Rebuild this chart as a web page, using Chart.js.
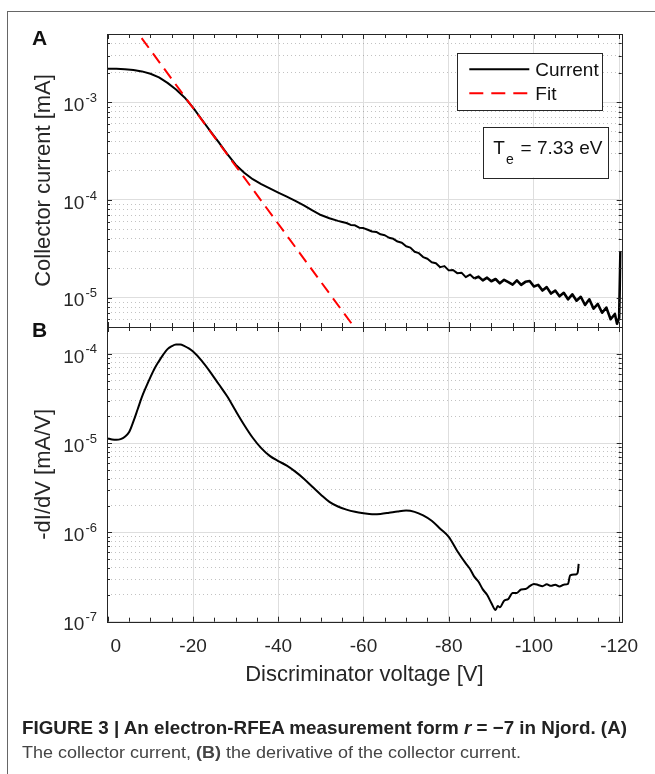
<!DOCTYPE html>
<html>
<head>
<meta charset="utf-8">
<title>Electron-RFEA measurement</title>
<script src="https://cdn.jsdelivr.net/npm/chart.js@4.4.1/dist/chart.umd.min.js"></script>
<style>
    body { margin: 0; background: #fff; }
    #fig { position: relative; width: 655px; height: 774px; overflow: hidden; background: #fff; }
    #fig canvas { position: absolute; left: 0; top: 0; }
    .frame-top { position: absolute; left: 7px; top: 11px; right: 0; border-top: 1px solid #666; }
    .frame-left { position: absolute; left: 7px; top: 11px; bottom: 0; border-left: 1px solid #666; }
    .panel-label { position: absolute; font: bold 21px "Liberation Sans", Arial, sans-serif; line-height: 21px; color: #111; }
    .cap { position: absolute; left: 22px; white-space: nowrap; transform-origin: 0 0; font-family: "Liberation Sans", Arial, sans-serif; }
    #cap1 { top: 719px; font-size: 18.5px; line-height: 18.5px; font-weight: bold; color: #222; }
    #cap2 { top: 745px; font-size: 16px; line-height: 16px; color: #444; }
</style>
</head>
<body>
<div id="fig">
    <div class="frame-top"></div>
    <div class="frame-left"></div>
    <canvas id="panelA" width="655" height="774"></canvas>
    <canvas id="panelB" width="655" height="774"></canvas>
    <div class="panel-label" style="left:32px; top:27px;">A</div>
    <div class="panel-label" style="left:32px; top:319px;">B</div>
    <div class="cap" id="cap1">FIGURE 3 | An electron-RFEA measurement form <i>r</i> = −7 in Njord. (A)</div>
    <div class="cap" id="cap2">The collector current, <b>(B)</b> the derivative of the collector current.</div>
</div>
<script>
// Values
const xRange = [-120.6, 0.2];          // discriminator voltage [V] (axis runs 0 -> -120)
const xMajorTicks = [0, -20, -40, -60, -80, -100, -120];
const xTickLabels = ['   0', '-20', '-40', '-60', '-80', '-100', '-120'];
const topRange = [5e-6, 5e-3];         // collector current [mA]
const bottomRange = [1e-7, 2e-4];      // -dI/dV [mA/V]

// Panel A: measured collector current
const currentV = [
    0, -2, -4, -6, -8, -10, -12, -14, -16, -18,
    -20, -22, -24, -26, -28, -30, -32, -34, -36, -38,
    -40, -42, -44, -46, -48, -50, -52, -54, -55,
    -56, -57, -58, -59, -60, -61, -62, -63, -64, -65,
    -66, -67, -68, -69, -70, -71, -72, -73, -74, -75,
    -76, -77, -78, -79, -80, -81, -82, -83, -84, -85,
    -86, -87, -88, -89, -90, -91, -92, -93, -94, -95,
    -96, -97, -98, -99, -100, -101, -102, -103, -104, -105,
    -106, -107, -108, -109, -110, -111, -112, -113, -114, -115,
    -116, -117, -118, -119, -119.5, -120, -120.3
];
const currentI = [
    2.2e-3, 2.2e-3, 2.18e-3, 2.14e-3, 2.07e-3, 1.96e-3, 1.8e-3, 1.58e-3, 1.35e-3, 1.12e-3,
    8.8e-4, 6.7e-4, 5.1e-4, 3.9e-4, 2.97e-4, 2.3e-4, 1.9e-4, 1.63e-4, 1.45e-4, 1.31e-4,
    1.19e-4, 1.08e-4, 9.8e-5, 8.8e-5, 7.8e-5, 7.0e-5, 6.5e-5, 6.1e-5, 5.95e-5,
    5.8e-5, 5.55e-5, 5.5e-5, 5.2e-5, 5.15e-5, 4.95e-5, 4.75e-5, 4.7e-5, 4.45e-5, 4.35e-5,
    4.1e-5, 4.0e-5, 3.75e-5, 3.65e-5, 3.35e-5, 3.25e-5, 2.95e-5, 2.85e-5, 2.6e-5, 2.5e-5,
    2.3e-5, 2.25e-5, 2.05e-5, 2.1e-5, 1.9e-5, 1.92e-5, 1.78e-5, 1.8e-5, 1.62e-5, 1.72e-5,
    1.57e-5, 1.64e-5, 1.5e-5, 1.6e-5, 1.47e-5, 1.55e-5, 1.4e-5, 1.52e-5, 1.44e-5, 1.36e-5,
    1.5e-5, 1.35e-5, 1.45e-5, 1.48e-5, 1.3e-5, 1.35e-5, 1.18e-5, 1.28e-5, 1.1e-5, 1.18e-5,
    1.03e-5, 1.12e-5, 9.6e-6, 1.08e-5, 9.3e-6, 1.02e-5, 8.4e-6, 9.6e-6, 7.7e-6, 8.6e-6,
    7.0e-6, 7.9e-6, 6.0e-6, 6.8e-6, 5.4e-6, 6.2e-6, 3.0e-5
];

// Panel A: exponential fit (straight in log scale), end points
const fitV = [0, -60];
const fitI = [1.34e-2, 3.7e-6];
const fitText = ['T', 'e', ' = 7.33 eV'];

// Panel B: derivative of the collector current
const derivV = [
    0, -1, -2, -3, -4, -5, -6, -7, -8, -9,
    -10, -11, -12, -13, -14, -15, -16, -17, -18, -19,
    -20, -22, -24, -26, -28, -30, -32, -34, -36, -38,
    -40, -42, -44, -46, -48, -50, -52, -54, -56, -58,
    -60, -62, -64, -66, -68, -70, -72, -74, -76, -78,
    -80, -82, -84, -85, -86, -87, -88, -89, -90, -91,
    -91.5, -92, -93, -94, -95, -96, -97, -98, -99, -100,
    -101, -102, -103, -104, -105, -106, -107, -108, -108.5, -110,
    -110.3, -110.5
];
const derivI = [
    1.13e-5, 1.1e-5, 1.09e-5, 1.11e-5, 1.18e-5, 1.33e-5, 1.75e-5, 2.4e-5, 3.3e-5, 4.3e-5,
    5.5e-5, 6.9e-5, 8.3e-5, 9.8e-5, 1.13e-4, 1.22e-4, 1.27e-4, 1.27e-4, 1.22e-4, 1.15e-4,
    1.06e-4, 8.4e-5, 6.3e-5, 4.6e-5, 3.35e-5, 2.3e-5, 1.6e-5, 1.15e-5, 8.8e-6, 7.2e-6,
    6.3e-6, 5.6e-6, 4.8e-6, 4.0e-6, 3.25e-6, 2.65e-6, 2.2e-6, 1.95e-6, 1.8e-6, 1.7e-6,
    1.64e-6, 1.6e-6, 1.61e-6, 1.66e-6, 1.72e-6, 1.76e-6, 1.7e-6, 1.55e-6, 1.35e-6, 1.1e-6,
    8.9e-7, 6.2e-7, 4.5e-7, 3.9e-7, 3.2e-7, 2.8e-7, 2.3e-7, 2.0e-7, 1.62e-7, 1.35e-7,
    1.5e-7, 1.45e-7, 1.72e-7, 1.8e-7, 2.1e-7, 2.1e-7, 2.3e-7, 2.32e-7, 2.5e-7, 2.65e-7,
    2.58e-7, 2.5e-7, 2.62e-7, 2.52e-7, 2.6e-7, 2.48e-7, 2.6e-7, 2.65e-7, 3.3e-7, 3.4e-7,
    3.6e-7, 4.45e-7
];

const FONT = '"Liberation Sans", Arial, Helvetica, sans-serif';
const AXIS_COLOR = '#262626';

const pts = (xs, ys) => xs.map((x, i) => ({ x: x, y: ys[i] }));

// log ticks at 1..9 x 10^n, majors at the decades
function logTicks(scale) {
    const ticks = [];
    const lo = Math.floor(Math.log10(scale.min));
    const hi = Math.ceil(Math.log10(scale.max));
    for (let e = lo; e <= hi; e++) {
        for (let k = 1; k <= 9; k++) {
            const v = k * Math.pow(10, e);
            if (v >= scale.min * 0.9999 && v <= scale.max * 1.0001) ticks.push({ value: v, major: k === 1 });
        }
    }
    scale.ticks = ticks;
}

// voltage ticks every 5 V, majors where a label sits
function voltTicks(scale) {
    const ticks = [];
    for (let v = -120; v <= 0; v += 5) ticks.push({ value: v, major: xMajorTicks.includes(v) });
    scale.ticks = ticks;
}

function xScale(withLabels) {
    return {
        type: 'linear',
        min: xRange[0],
        max: xRange[1],
        reverse: true,
        bounds: 'data',
        afterBuildTicks: voltTicks,
        afterFit: s => { s.height = withLabels ? 70 : 0; },
        grid: {
            drawTicks: false,
            color: ctx => (ctx.tick && ctx.tick.major) ? '#dedede' : 'rgba(0,0,0,0)',
            lineWidth: 1
        },
        border: { display: false },
        ticks: {
            display: withLabels,
            autoSkip: false,
            maxRotation: 0,
            padding: 14,
            color: AXIS_COLOR,
            font: { family: FONT, size: 19 },
            callback: (value) => {
                const idx = xMajorTicks.indexOf(value);
                return idx >= 0 ? xTickLabels[idx] : '';
            }
        },
        title: {
            display: withLabels,
            text: 'Discriminator voltage [V]',
            color: AXIS_COLOR,
            font: { family: FONT, size: 22 },
            padding: { top: 0, bottom: 4 }
        }
    };
}

function yScale(range, label) {
    return {
        type: 'logarithmic',
        min: range[0],
        max: range[1],
        bounds: 'data',
        afterBuildTicks: logTicks,
        afterFit: s => { s.width = 107; },
        grid: {
            drawTicks: false,
            color: ctx => (ctx.tick && ctx.tick.major) ? '#dedede' : 'rgba(120,120,120,0.45)',
            lineWidth: 1
        },
        border: {
            display: false,
            dash: ctx => (ctx.tick && !ctx.tick.major) ? [1, 3] : []
        },
        ticks: { display: false, autoSkip: false },
        title: {
            display: true,
            text: label,
            color: AXIS_COLOR,
            font: { family: FONT, size: 22 },
            padding: { top: 30.5, bottom: 0 }
        }
    };
}

// MATLAB-like box: inward ticks on all four sides and 10^n labels
const matlabAxes = {
    id: 'matlabAxes',
    afterDatasetsDraw(chart) {
        const { ctx, chartArea: a, scales } = chart;
        const x = scales.x, y = scales.y;
        ctx.save();
        ctx.strokeStyle = AXIS_COLOR;
        ctx.lineWidth = 1;
        ctx.beginPath();
        x.ticks.forEach(t => {
            const px = Math.round(x.getPixelForValue(t.value)) + 0.5;
            const len = t.major ? 5 : 4;
            ctx.moveTo(px, a.top); ctx.lineTo(px, a.top + len);
            ctx.moveTo(px, a.bottom); ctx.lineTo(px, a.bottom - len);
        });
        y.ticks.forEach(t => {
            const py = Math.round(y.getPixelForValue(t.value)) + 0.5;
            const len = t.major ? 5 : 3;
            ctx.moveTo(a.left, py); ctx.lineTo(a.left + len, py);
            ctx.moveTo(a.right, py); ctx.lineTo(a.right - len, py);
        });
        ctx.stroke();
        ctx.strokeRect(Math.round(a.left) + 0.5, Math.round(a.top) + 0.5,
            Math.round(a.right - a.left), Math.round(a.bottom - a.top));

        // decade labels with superscript exponent
        ctx.fillStyle = AXIS_COLOR;
        ctx.textAlign = 'right';
        ctx.textBaseline = 'middle';
        y.ticks.filter(t => t.major).forEach(t => {
            const py = y.getPixelForValue(t.value);
            const exp = String(Math.round(Math.log10(t.value)));
            ctx.font = '13px ' + FONT;
            const w = ctx.measureText(exp).width;
            ctx.fillText(exp, a.left - 10, py - 4);
            ctx.font = '19px ' + FONT;
            ctx.fillText('10', a.left - 11 - w, py + 3.5);
        });
        ctx.restore();
    }
};

// legend and temperature box for panel A
const legendBox = {
    id: 'legendBox',
    afterDraw(chart) {
        const { ctx, chartArea: a } = chart;
        const ds = chart.data.datasets;
        ctx.save();
        const lx = a.right - 164.4, ly = a.top + 19.3, lw = 145.4, lh = 56.7;
        ctx.fillStyle = '#fff';
        ctx.fillRect(lx, ly, lw, lh);
        ctx.strokeStyle = AXIS_COLOR;
        ctx.lineWidth = 1;
        ctx.strokeRect(Math.round(lx) + 0.5, Math.round(ly) + 0.5, Math.round(lw), Math.round(lh));
        ds.forEach((d, i) => {
            const rowY = ly + 16 + i * 24;
            ctx.beginPath();
            ctx.strokeStyle = d.borderColor;
            ctx.lineWidth = 2;
            ctx.setLineDash(d.borderDash ? [14, 8] : []);
            ctx.moveTo(lx + 12, rowY);
            ctx.lineTo(lx + 72, rowY);
            ctx.stroke();
            ctx.setLineDash([]);
            ctx.fillStyle = '#111';
            ctx.font = '19px ' + FONT;
            ctx.textAlign = 'left';
            ctx.textBaseline = 'middle';
            ctx.fillText(d.label, lx + 78, rowY + 1.5);
        });

        const tx = a.right - 138.4, ty = a.top + 92.7, tw = 125, th = 50.6;
        ctx.fillStyle = '#fff';
        ctx.fillRect(tx, ty, tw, th);
        ctx.strokeStyle = AXIS_COLOR;
        ctx.lineWidth = 1;
        ctx.strokeRect(Math.round(tx) + 0.5, Math.round(ty) + 0.5, Math.round(tw), Math.round(th));
        ctx.fillStyle = '#111';
        ctx.textAlign = 'left';
        ctx.textBaseline = 'middle';
        ctx.font = '19px ' + FONT;
        ctx.fillText(fitText[0], tx + 10, ty + 22);
        const tW = ctx.measureText(fitText[0]).width;
        ctx.font = '14px ' + FONT;
        ctx.fillText(fitText[1], tx + 10 + tW + 1, ty + 33);
        ctx.font = '19px ' + FONT;
        ctx.fillText(fitText[2], tx + 32, ty + 22);
        ctx.restore();
    }
};

Chart.defaults.font.family = FONT;

new Chart(document.getElementById('panelA'), {
    type: 'line',
    data: {
        datasets: [
            {
                label: 'Current',
                data: pts(currentV, currentI),
                borderColor: '#000000',
                borderWidth: 2,
                borderJoinStyle: 'round',
                pointRadius: 0,
                tension: 0,
                order: 1,
                // noisier tail looks like a thicker band in the figure
                segment: { borderWidth: ctx => ctx.p0.parsed.x < -85 ? 2.6 : 2 }
            },
            {
                label: 'Fit',
                data: pts(fitV, fitI),
                borderColor: '#ff0000',
                borderWidth: 2,
                borderDash: [12, 7],
                pointRadius: 0,
                order: 0
            }
        ]
    },
    options: {
        responsive: false,
        animation: false,
        devicePixelRatio: 1,
        layout: { padding: { top: 34, right: 33.3, bottom: 774 - 327, left: 0 } },
        plugins: { legend: { display: false }, tooltip: { enabled: false } },
        scales: { x: xScale(false), y: yScale(topRange, 'Collector current [mA]') }
    },
    plugins: [matlabAxes, legendBox]
});

new Chart(document.getElementById('panelB'), {
    type: 'line',
    data: {
        datasets: [{
            label: '-dI/dV',
            data: pts(derivV, derivI),
            borderColor: '#000000',
            borderWidth: 2,
            borderJoinStyle: 'round',
            pointRadius: 0,
            cubicInterpolationMode: 'monotone'
        }]
    },
    options: {
        responsive: false,
        animation: false,
        devicePixelRatio: 1,
        layout: { padding: { top: 327, right: 33.3, bottom: 774 - 621.7 - 70, left: 0 } },
        plugins: { legend: { display: false }, tooltip: { enabled: false } },
        scales: { x: xScale(true), y: yScale(bottomRange, '-dI/dV [mA/V]') }
    },
    plugins: [matlabAxes]
});

// squeeze caption lines to the widths in the figure
[['cap1', 605], ['cap2', 499]].forEach(([id, target]) => {
    const el = document.getElementById(id);
    const w = el.getBoundingClientRect().width;
    if (w > 0) el.style.transform = 'scaleX(' + (target / w) + ')';
});
</script>
</body>
</html>
